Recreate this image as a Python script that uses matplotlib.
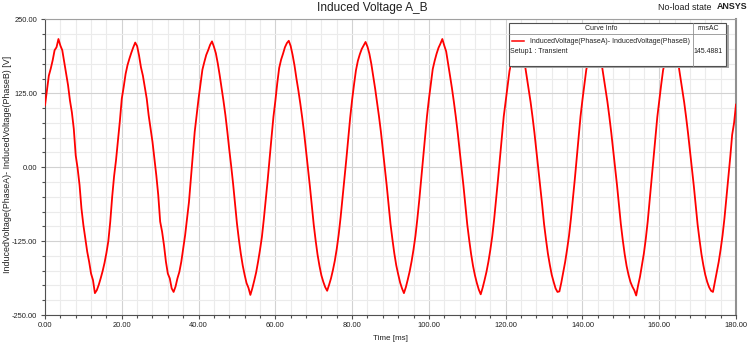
#!/usr/bin/env python3
"""
Induced line voltage A_B, no-load transient (Maxwell style plot)
"""
import matplotlib
matplotlib.use('Agg')
import matplotlib.pyplot as plt
from matplotlib.lines import Line2D
from matplotlib.patches import Rectangle
from matplotlib.ticker import MultipleLocator, FormatStrFormatter
import numpy as np

# sampled every 0.5 ms, one list per 20 ms electrical period [V]
cycle1 = [105, 130, 155, 167, 181, 198, 203, 217, 206, 198,
          178, 158, 139, 113, 93, 65, 20, -2, -30, -70,
          -98, -120, -143, -160, -180, -191, -213, -208, -199, -188,
          -176, -162, -145, -125, -92, -50, -15, 12, 45, 78]
cycle2 = [116, 136, 158, 173, 184, 194, 203, 211, 205, 189,
          169, 155, 136, 116, 88, 65, 43, 15, -14, -47,
          -92, -109, -132, -160, -180, -188, -205, -211, -202, -188,
          -177, -160, -137, -115, -87, -59, -19, 20, 60, 88]
cycle3 = [116, 140, 165, 178, 190, 198, 207, 213, 204, 193,
          176, 156, 134, 112, 88, 60, 30, 2, -28, -62,
          -95, -122, -146, -166, -182, -196, -204, -216, -205, -192,
          -178, -160, -140, -118, -88, -55, -22, 15, 50, 85]
cycle4 = [112, 142, 168, 182, 192, 203, 210, 214, 205, 190,
          172, 150, 130, 108, 84, 58, 28, -2, -32, -65,
          -97, -124, -148, -167, -183, -194, -203, -209, -199, -188,
          -174, -158, -138, -114, -85, -52, -20, 14, 50, 84]
cycle5 = [114, 140, 164, 180, 191, 200, 206, 212, 204, 192,
          175, 154, 133, 110, 86, 60, 30, 0, -30, -63,
          -96, -122, -146, -166, -181, -195, -205, -213, -203, -190,
          -176, -159, -139, -116, -87, -55, -20, 15, 52, 86]
cycle6 = [115, 141, 166, 180, 192, 202, 209, 217, 206, 196,
          176, 155, 134, 111, 86, 59, 29, 0, -31, -64,
          -97, -123, -147, -167, -183, -196, -207, -215, -204, -191,
          -177, -160, -140, -117, -88, -55, -21, 14, 51, 86]
cycle7 = [112, 139, 163, 178, 190, 200, 207, 212, 204, 191,
          174, 153, 132, 110, 85, 58, 28, -1, -31, -63,
          -96, -122, -146, -165, -182, -194, -205, -211, -210, -195,
          -177, -160, -139, -116, -87, -54, -21, 15, 51, 86]
cycle8 = [114, 140, 165, 179, 191, 201, 208, 213, 205, 192,
          175, 154, 133, 111, 86, 59, 29, 0, -30, -63,
          -96, -123, -147, -167, -182, -194, -202, -208, -217, -200,
          -185, -166, -146, -121, -92, -57, -22, 14, 50, 85]
cycle9 = [112, 139, 164, 179, 190, 200, 207, 212, 204, 191,
          174, 153, 132, 110, 85, 58, 28, -1, -31, -64,
          -97, -123, -147, -166, -182, -194, -203, -209, -211, -194,
          -178, -160, -139, -115, -86, -52, -18, 17, 55, 75]
end_value = [106]

curve_name = 'InducedVoltage(PhaseA)- InducedVoltage(PhaseB)'
setup_name = 'Setup1 : Transient'
rms_ac = '145.4881'

W, H = 747, 345


def fpx(x, y):
    # pixel (from top-left) -> figure fraction
    return x / W, 1 - y / H


def format_plotting():
    plt.rcParams['font.family'] = ['Liberation Sans', 'DejaVu Sans']
    plt.rcParams['font.size'] = 5.4
    plt.rcParams['text.color'] = '#202020'
    plt.rcParams['axes.labelcolor'] = '#202020'
    plt.rcParams['xtick.color'] = '#505050'
    plt.rcParams['ytick.color'] = '#505050'
    plt.rcParams['xtick.labelcolor'] = '#202020'
    plt.rcParams['ytick.labelcolor'] = '#202020'
    plt.rcParams['xtick.direction'] = 'out'
    plt.rcParams['ytick.direction'] = 'out'
    plt.rcParams['xtick.major.size'] = 3
    plt.rcParams['xtick.minor.size'] = 2
    plt.rcParams['ytick.major.size'] = 3
    plt.rcParams['ytick.minor.size'] = 2
    plt.rcParams['xtick.major.width'] = 0.8
    plt.rcParams['xtick.minor.width'] = 0.8
    plt.rcParams['ytick.major.width'] = 0.8
    plt.rcParams['ytick.minor.width'] = 0.8
    plt.rcParams['xtick.major.pad'] = 1.8
    plt.rcParams['ytick.major.pad'] = 2.8


def draw_curve_info(fig):
    # Maxwell "Curve Info" box with shadow, drawn above the axes
    x0, y0, x1, y1 = 509, 22.7, 726, 65.7
    shadow = Rectangle(fpx(x0 + 2.5, y1 + 2.5), (x1 - x0) / W, (y1 - y0) / H,
                       transform=fig.transFigure, facecolor='#a8a8a8',
                       edgecolor='none', zorder=5)
    box = Rectangle(fpx(x0, y1), (x1 - x0) / W, (y1 - y0) / H,
                    transform=fig.transFigure, facecolor='white',
                    edgecolor='#505050', lw=0.8, zorder=6)
    fig.add_artist(shadow)
    fig.add_artist(box)
    hx, hy = zip(fpx(x0, 34), fpx(x1, 34))
    fig.add_artist(Line2D(hx, hy, transform=fig.transFigure,
                          color='#909090', lw=0.6, zorder=7))
    vx, vy = zip(fpx(693, y0), fpx(693, y1))
    fig.add_artist(Line2D(vx, vy, transform=fig.transFigure,
                          color='#909090', lw=0.6, zorder=7))
    sx, sy = zip(fpx(512, 40.7), fpx(524, 40.7))
    fig.add_artist(Line2D(sx, sy, transform=fig.transFigure,
                          color='#ff0000', lw=1.1, zorder=7))

    kw = dict(fontsize=5, zorder=8, va='center')
    fig.text(*fpx(601, 28.8), 'Curve Info', ha='center', **kw)
    fig.text(*fpx(708, 28.8), 'rmsAC', ha='center', **kw)
    fig.text(*fpx(530.5, 41.3), curve_name, ha='left', **kw)
    fig.text(*fpx(510.5, 51.7), setup_name, ha='left', **kw)
    fig.text(*fpx(722.5, 51.7), rms_ac, ha='right', **kw)


def main():
    format_plotting()
    voltage = np.array(cycle1 + cycle2 + cycle3 + cycle4 + cycle5 +
                       cycle6 + cycle7 + cycle8 + cycle9 + end_value)
    time_ms = np.arange(len(voltage)) * 0.5

    fig = plt.figure(figsize=(W / 100, H / 100), dpi=100)
    ax = fig.add_axes([45 / W, 1 - 315 / H, (736 - 45) / W, (315 - 19.5) / H])
    ax.plot(time_ms, voltage, color='#ff0000', lw=1.3, zorder=3)

    ax.set_xlim(0, 180)
    ax.set_ylim(-250, 250)
    ax.xaxis.set_major_locator(MultipleLocator(20))
    ax.xaxis.set_minor_locator(MultipleLocator(4))
    ax.yaxis.set_major_locator(MultipleLocator(125))
    ax.yaxis.set_minor_locator(MultipleLocator(25))
    ax.xaxis.set_major_formatter(FormatStrFormatter('%.2f'))
    ax.yaxis.set_major_formatter(FormatStrFormatter('%.2f'))
    ax.set_axisbelow(True)
    ax.grid(which='major', color='#d2d2d2', lw=0.8)
    ax.grid(which='minor', color='#ebebeb', lw=0.8)

    ax.spines['left'].set_color('#505050')
    ax.spines['bottom'].set_color('#505050')
    ax.spines['top'].set_color('#a0a0a0')
    ax.spines['right'].set_color('#909090')
    ax.spines['right'].set_linewidth(1.5)

    ax.set_xlabel('Time [ms]', fontsize=5.8)
    ax.xaxis.set_label_coords(0.5, (315 - 339) / 295.5)
    ax.xaxis.label.set_va('center')
    ax.set_ylabel(curve_name + ' [V]', fontsize=6.4)
    ax.yaxis.set_label_coords((7.5 - 45) / 691, (315 - 164) / 295.5)
    ax.yaxis.label.set_va('center')

    fig.text(*fpx(372, 7.5), 'Induced Voltage A_B', fontsize=8.6,
             ha='center', va='center')
    fig.text(*fpx(658, 7), 'No-load state', fontsize=6.4,
             ha='left', va='center')
    fig.text(*fpx(717, 6.5), 'ANSYS', fontsize=6.4, fontweight='bold',
             ha='left', va='center')

    draw_curve_info(fig)
    fig.savefig('out.png', dpi=100)


if __name__ == "__main__":
    main()
